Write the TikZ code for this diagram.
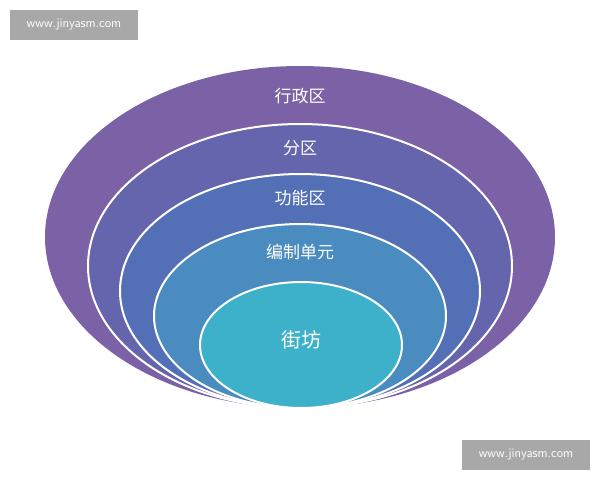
\documentclass[tikz,border=0pt]{standalone}
\usepackage{fontspec}
\newfontfamily\cjk{Noto Sans CJK SC}
\usetikzlibrary{positioning}
\definecolor{ringA}{HTML}{7B62A6}
\definecolor{ringB}{HTML}{6565AE}
\definecolor{ringC}{HTML}{5370B6}
\definecolor{ringD}{HTML}{4A8CC0}
\definecolor{ringE}{HTML}{3DB1C9}
\definecolor{markgray}{HTML}{A8A8A8}
\begin{document}
\begin{tikzpicture}[x=1pt,y=-1pt,
    ring/.style={draw=white, line width=2pt},
    label/.style={text=white, font=\cjk\fontsize{17}{19}\selectfont},
    wmark/.style={fill=markgray, text=white, font=\sffamily\fontsize{13}{14}\selectfont,
      minimum width=128pt, minimum height=30pt, inner sep=0pt}
  ]
  \useasboundingbox (0,0) rectangle (600,480);
  % nested rings, all touching at the bottom
  \fill[ringA] (300,237) ellipse [x radius=255, y radius=171];
  \draw[ring, fill=ringB] (300,266) ellipse [x radius=212, y radius=142];
  \draw[ring, fill=ringC] (300,291) ellipse [x radius=180, y radius=117];
  \draw[ring, fill=ringD] (300,316) ellipse [x radius=146, y radius=92];
  \draw[ring, fill=ringE] (301,345) ellipse [x radius=101, y radius=63];
  \node[label] (xzq) at (300,96) {行政区};
  \node[label] (fq) at (300,148) {分区};
  \node[label] (gnq) at (300,198) {功能区};
  \node[label] (bzdy) at (300,252) {编制单元};
  \node[label, font=\cjk\fontsize{20}{22}\selectfont] (jf) at (301,340) {街坊};
  % watermarks
  \node[wmark] (wmA) at (74,25) {www.jinyasm.com};
  \node[wmark] (wmB) at (526,455) {www.jinyasm.com};
\end{tikzpicture}
\end{document}
